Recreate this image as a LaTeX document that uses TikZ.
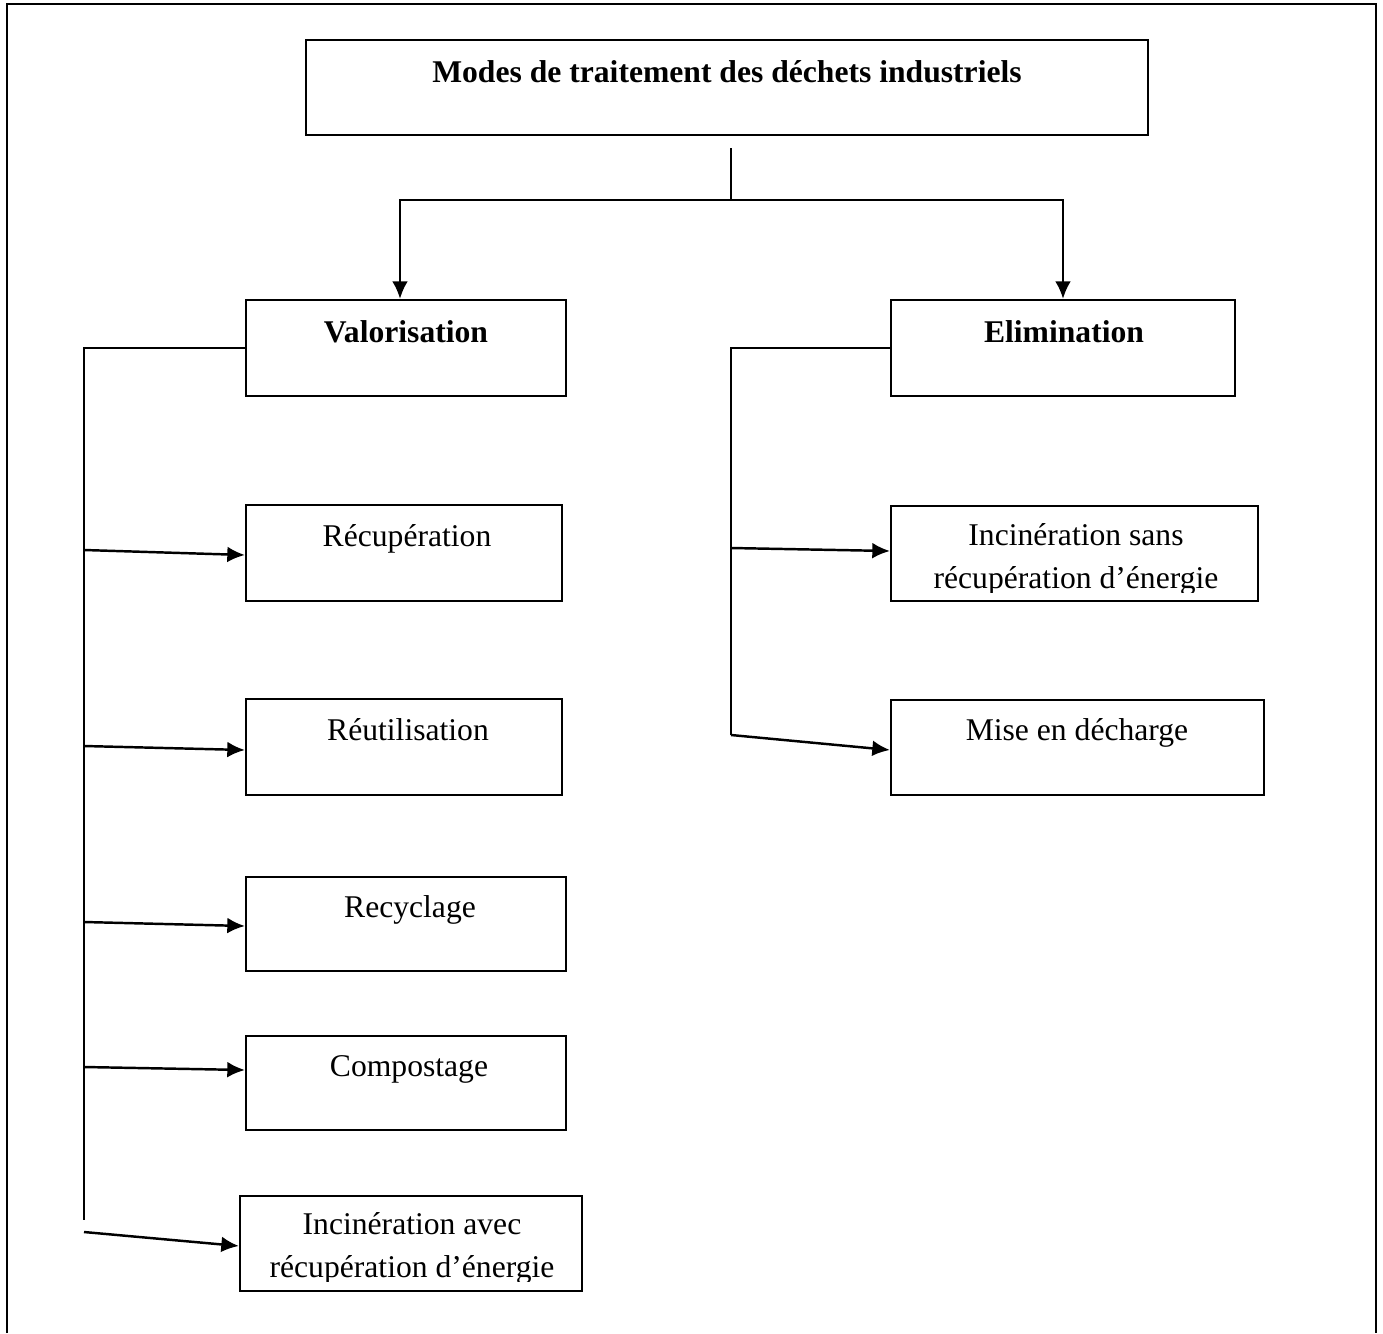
\documentclass[tikz,border=0pt]{standalone}
\usepackage{fontspec}
\setmainfont{Liberation Serif}
\usetikzlibrary{arrows.meta}

\tikzset{
  box/.style={draw, line width=1.3pt, inner sep=0pt},
  txt/.style={inner sep=0pt, anchor=base, align=center, font=\fontsize{18}{24.4}\selectfont},
  btxt/.style={txt, font=\fontsize{18}{24.4}\selectfont\bfseries},
  trait/.style={line width=1.4pt},
}

\begin{document}
\begin{tikzpicture}[x=0.02cm, y=-0.02cm, >={Latex[length=10pt,width=9pt]}]
    \useasboundingbox (0,0) rectangle (1383,1333);
    \draw[box] (7,1333)--(7,4)--(1376,4)--(1376,1333);

    % boites
    \node[box, minimum width=16.84cm, minimum height=1.9cm] (modes) at (727,87.5) {};
    \node[box, minimum width=6.4cm, minimum height=1.92cm] (valo) at (406,348) {};
    \node[box, minimum width=6.88cm, minimum height=1.92cm] (elim) at (1063,348) {};
    \node[box, minimum width=6.32cm, minimum height=1.92cm] (recup) at (404,553) {};
    \node[box, minimum width=6.32cm, minimum height=1.92cm] (reutil) at (404,747) {};
    \node[box, minimum width=6.4cm, minimum height=1.88cm] (recycl) at (406,924) {};
    \node[box, minimum width=6.4cm, minimum height=1.88cm] (compost) at (406,1083) {};
    \node[box, minimum width=6.84cm, minimum height=1.9cm] (incav) at (411,1243.5) {};
    \node[box, minimum width=7.34cm, minimum height=1.9cm] (incsans) at (1074.5,553.5) {};
    \node[box, minimum width=7.46cm, minimum height=1.9cm] (mise) at (1077.5,747.5) {};

    % textes
    \node[btxt] (modest) at (727,82) {Modes de traitement des déchets industriels};
    \node[btxt] (valot) at (406,342) {Valorisation};
    \node[btxt] (elimt) at (1064,342) {Elimination};
    \node[txt] (recupt) at (407,546) {Récupération};
    \node[txt] (reutilt) at (408,740) {Réutilisation};
    \node[txt] (recyclt) at (410,917) {Recyclage};
    \node[txt] (compostt) at (409,1076) {Compostage};
    \node[txt] (misett) at (1077,740) {Mise en décharge};
    \begin{scope}
      \clip (incav.north west) rectangle (incav.east |- 0,1281);
      \node[txt] (incavt) at (412,1277) {Incinération avec\\récupération d’énergie};
    \end{scope}
    \begin{scope}
      \clip (incsans.north west) rectangle (incsans.east |- 0,592);
      \node[txt] (incsanst) at (1076,588) {Incinération sans\\récupération d’énergie};
    \end{scope}

    % liaisons
    \coordinate (tige) at (731,148);
    \coordinate (fourche) at (731,200);
    \draw[box] (tige)--(fourche);
    \draw[trait,->] (fourche)-|([xshift=-.12cm]valo.north);
    \draw[trait,->] (fourche)-|(elim.north);

    \coordinate (vbas) at (84,1220);
    \draw[box] (valo.west)-|(vbas);
    \foreach \n/\ya/\yb in {recup/550/555, reutil/746/750, recycl/922/926, compost/1067/1070, incav/1232/1246}
    {
        \coordinate (v\n) at (84,\ya);
        \draw[trait,->] (v\n)--(\n.west |- 0,\yb);
    }

    \coordinate (ebas) at (731,735);
    \draw[box] (elim.west)-|(ebas);
    \coordinate (eincsans) at (731,548);
    \draw[trait,->] (eincsans)--(incsans.west |- 0,551);
    \draw[trait,->] (ebas)--(mise.west |- 0,750);

\end{tikzpicture}
\end{document}
